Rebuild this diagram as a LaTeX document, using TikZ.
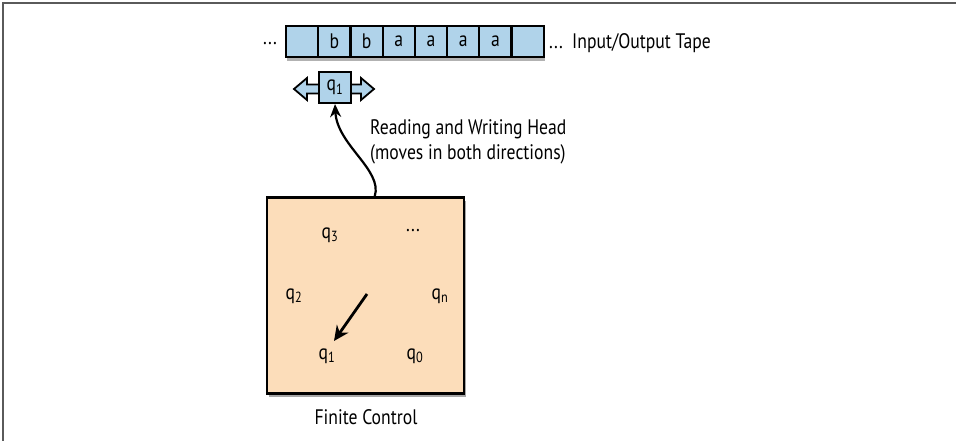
\documentclass[tikz,border=0pt]{standalone}
\usepackage{fontspec}
\setmainfont[FakeStretch=0.84]{PT Sans}
\usetikzlibrary{arrows.meta,shadows,calc}
\definecolor{tapeblue}{RGB}{176,211,234}
\definecolor{peach}{RGB}{252,221,186}
\definecolor{framegray}{RGB}{90,90,90}
\tikzset{
  x=1pt, y=-1pt,
  txt/.style={font=\fontsize{21}{25}\selectfont, inner sep=0pt},
  cell/.style={draw=black, line width=2.2pt, fill=tapeblue, minimum width=32.2pt, minimum height=31pt, inner sep=0pt, anchor=west, font=\fontsize{21}{25}\selectfont},
  boxshadow/.style={drop shadow={shadow xshift=1.5pt, shadow yshift=-3pt, opacity=0.35, fill=black}},
  state/.style={font=\fontsize{21}{25}\selectfont, inner sep=0pt},
  conn/.style={line width=2.8pt, -{Stealth[length=15pt,width=14pt]}},
}
\begin{document}
\begin{tikzpicture}
\useasboundingbox (0,0) rectangle (956,441);
\fill[white] (0,0) rectangle (956,441);
% frame
\draw[framegray, line width=1.2pt] (956,3) -- (3,3) -- (3,441);
% tape shadow
\fill[black, opacity=0.3] (287,31) rectangle (545,61);
\foreach \i/\t in {0/{},1/b,2/b,3/a,4/a,5/a,6/a,7/{}} {
  \node[cell] (c\i) at ({285+32.2*\i},41.5) {\t};
}
\node[txt] (ldots) at (270,44) {...};
\node[txt, anchor=west] (tapelabel) at (549,43) {...\ \ Input/Output Tape};
% head
\path[fill=tapeblue, draw=black, line width=1.8pt, line join=miter]
  (294,89) -- (307,78) -- (307,84.5) -- (361,84.5) -- (361,78) -- (374,89) -- (361,100) -- (361,93.5) -- (307,93.5) -- (307,100) -- cycle;
\node[draw=black, line width=2.2pt, fill=tapeblue, minimum width=32pt, minimum height=31pt, inner sep=0pt, font=\fontsize{21}{25}\selectfont] (head) at (335,87.5) {q\textsubscript{1}};
% finite control
\node[draw=black, line width=2.5pt, fill=peach, minimum width=197pt, minimum height=196pt, inner sep=0pt, boxshadow] (fc) at (365.5,295.5) {};
\coordinate (hstart) at ($(fc.north west)+(109,0)$);
\draw[line width=2.2pt, -{Stealth[length=13pt,width=11pt]}] (hstart) .. controls (383,170) and (337,145) .. (head.south);
\node[txt, anchor=north west, align=left] (hlabel) at (370,119) {Reading and Writing Head\\(moves in both directions)};
% states
\node[state] (q3) at (330,235) {q\textsubscript{3}};
\node[state] (qdots) at (413,231) {...};
\node[state] (q2) at (294,296) {q\textsubscript{2}};
\node[state] (qn) at (440,296) {q\textsubscript{n}};
\node[state] (q1) at (327,356) {q\textsubscript{1}};
\node[state] (q0) at (415,356) {q\textsubscript{0}};
\coordinate (astart) at (367,294);
\coordinate (aend) at (334,341);
\draw[conn] (astart) -- (aend);
\node[txt] (fclabel) at (366,417) {Finite Control};
\end{tikzpicture}
\end{document}
